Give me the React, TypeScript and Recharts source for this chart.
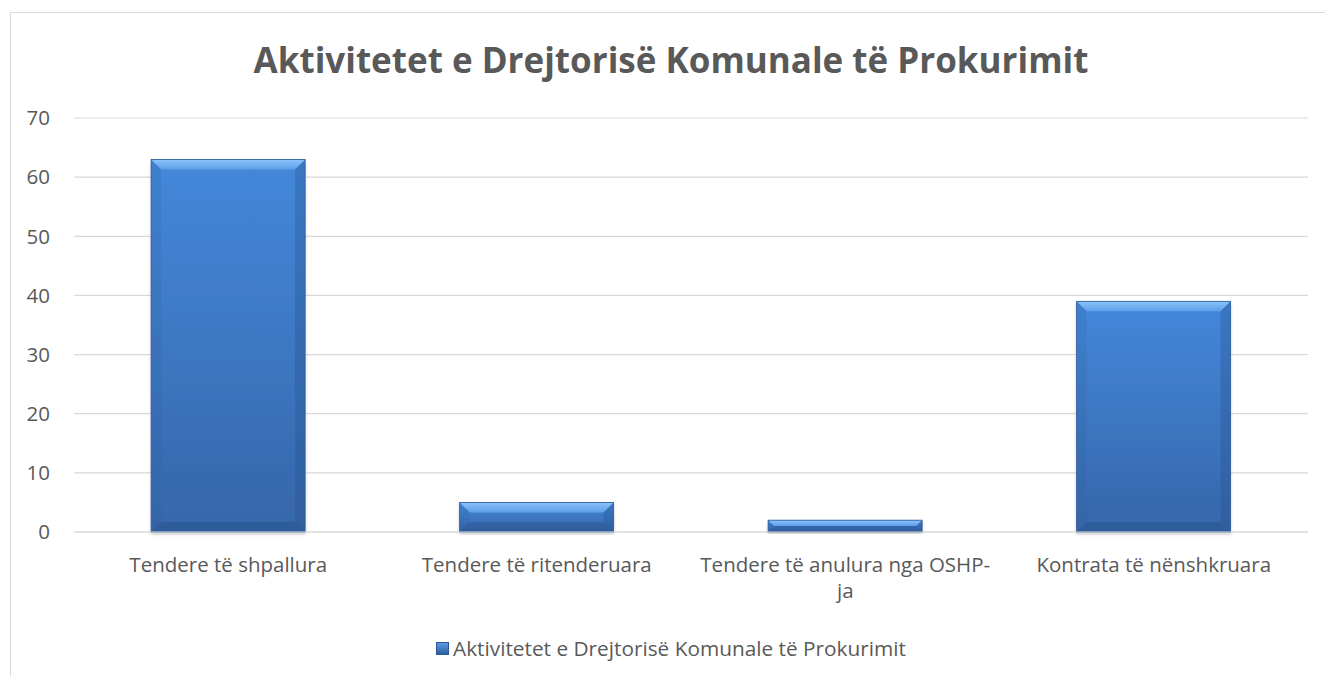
import { BarChart, Bar, XAxis, YAxis, CartesianGrid, Legend } from "recharts";

const categories = [
  "Tendere të shpallura",
  "Tendere të ritenderuara",
  "Tendere të anulura nga OSHP-ja",
  "Kontrata të nënshkruara",
];
const values = [63, 5, 2, 39];
const yTicks = [0, 10, 20, 30, 40, 50, 60, 70];
const seriesName = "Aktivitetet e Drejtorisë Komunale të Prokurimit";
const title = "Aktivitetet e Drejtorisë Komunale të Prokurimit";

const data = categories.map((name, i) => ({ name, value: values[i] }));

const FONT = "'Open Sans', sans-serif";
const TEXT = "#595959";

const wrapLabel = (s: string, max = 28): string[] => {
  if (s.length <= max) return [s];
  let cut = -1;
  for (let i = 0; i < max; i++) {
    if (s[i] === " ") cut = i;
    if (s[i] === "-") cut = i + 1;
  }
  if (cut <= 0) cut = max;
  return [s.slice(0, cut).trim(), ...wrapLabel(s.slice(cut).trim(), max)];
};

// separate <text> per line so the wrapped label stays as real text
const CategoryTick = (props: any) => {
  const { x, y, payload } = props;
  const lines = wrapLabel(payload.value);
  return (
    <g>
      {lines.map((l, i) => (
        <text
          key={i}
          x={x}
          y={y + 32 + i * 26}
          textAnchor="middle"
          fill={TEXT}
          fontSize={20.5}
          fontFamily={FONT}
        >
          {l}
        </text>
      ))}
    </g>
  );
};

const BevelBar = (props: any) => {
  const { x, y, width, height } = props;
  if (!height || height <= 0) return null;
  const b = Math.min(10, height / 2, width / 2);
  return (
    <g filter="url(#barShadow)">
      <rect x={x} y={y} width={width} height={height} fill="url(#barFill)" />
      {/* top bevel */}
      <polygon
        points={`${x},${y} ${x + width},${y} ${x + width - b},${y + b} ${x + b},${y + b}`}
        fill="url(#bevelTop)"
      />
      {/* left bevel */}
      <polygon
        points={`${x},${y} ${x + b},${y + b} ${x + b},${y + height - b} ${x},${y + height}`}
        fill="#2f5e9c"
        opacity={0.18}
      />
      {/* right bevel */}
      <polygon
        points={`${x + width},${y} ${x + width - b},${y + b} ${x + width - b},${y + height - b} ${x + width},${y + height}`}
        fill="#1f4a85"
        opacity={0.28}
      />
      {/* bottom bevel */}
      <polygon
        points={`${x},${y + height} ${x + b},${y + height - b} ${x + width - b},${y + height - b} ${x + width},${y + height}`}
        fill="#1f4478"
        opacity={0.3}
      />
      <rect x={x} y={y} width={width} height={height} fill="none" stroke="#2c5a96" strokeWidth={0.8} />
    </g>
  );
};

const LegendContent = () => (
  <div
    style={{
      display: "flex",
      justifyContent: "center",
      alignItems: "center",
      fontFamily: FONT,
      fontSize: 20.8,
      color: TEXT,
    }}
  >
    <span
      style={{
        display: "inline-block",
        width: 11,
        height: 11,
        marginRight: 4,
        background: "linear-gradient(#5a9be6, #2f5f9e)",
        border: "1px solid #2c5a96",
      }}
    />
    {seriesName}
  </div>
);

export default function App() {
  return (
    <div
      style={{
        position: "absolute",
        left: 0,
        top: 0,
        width: 1325,
        height: 676,
        overflow: "hidden",
        background: "#fff",
      }}
    >
      <div
        style={{
          position: "absolute",
          left: 10,
          top: 12,
          width: 1330,
          height: 700,
          border: "1px solid #d9d9d9",
        }}
      />
      <div
        style={{
          position: "absolute",
          left: 0,
          width: 1342,
          top: 36,
          textAlign: "center",
          fontFamily: FONT,
          fontWeight: 700,
          fontSize: 35,
          color: TEXT,
        }}
      >
        {title}
      </div>
      <div style={{ position: "absolute", left: 0, top: 0 }}>
        <BarChart
          width={1325}
          height={676}
          data={data}
          margin={{ top: 118, right: 17, bottom: 0, left: 0 }}
          barCategoryGap="25%"
        >
          <defs>
            <linearGradient id="barFill" x1="0" y1="0" x2="0" y2="1">
              <stop offset="0%" stopColor="#4488da" />
              <stop offset="100%" stopColor="#3666aa" />
            </linearGradient>
            <linearGradient id="bevelTop" x1="0" y1="0" x2="0" y2="1">
              <stop offset="0%" stopColor="#8cc4fa" />
              <stop offset="100%" stopColor="#5c9ee8" />
            </linearGradient>
            <filter id="barShadow" x="-5%" y="-5%" width="110%" height="115%">
              <feDropShadow dx="0" dy="2" stdDeviation="1.5" floodColor="#000" floodOpacity="0.2" />
            </filter>
          </defs>
          <CartesianGrid vertical={false} stroke="#d9d9d9" strokeWidth={1.2} />
          <XAxis
            dataKey="name"
            height={116}
            axisLine={{ stroke: "#d9d9d9", strokeWidth: 1.2 }}
            tickLine={false}
            tick={<CategoryTick />}
            interval={0}
          />
          <YAxis
            width={74}
            domain={[0, 70]}
            ticks={yTicks}
            axisLine={false}
            tickLine={false}
            tickSize={0}
            tickMargin={24}
            tick={{ fill: TEXT, fontSize: 20.5, fontFamily: FONT }}
          />
          <Legend
            verticalAlign="bottom"
            content={<LegendContent />}
            wrapperStyle={{ position: "absolute", top: 634, left: 0, width: 1342 }}
          />
          <Bar
            dataKey="value"
            name={seriesName}
            shape={<BevelBar />}
            isAnimationActive={false}
          />
        </BarChart>
      </div>
    </div>
  );
}
